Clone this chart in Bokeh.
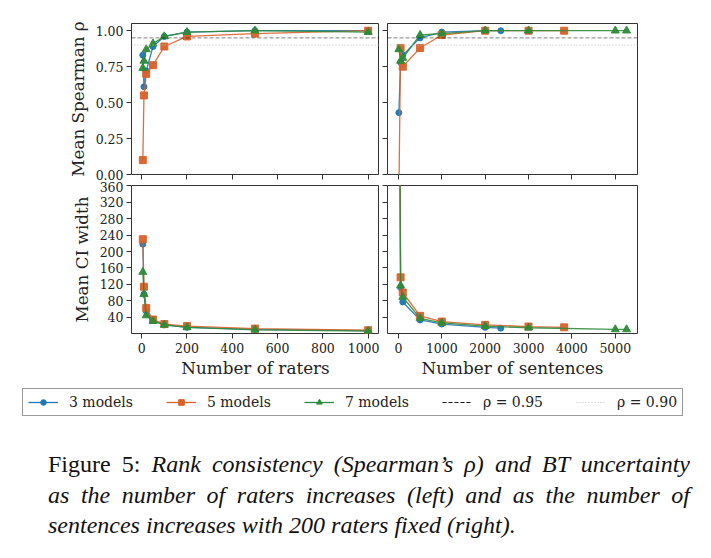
from bokeh.plotting import figure
from bokeh.layouts import column, row
from bokeh.models import Range1d, FixedTicker, Span, Legend, LegendItem, Div
from bokeh.embed import file_html
from bokeh.resources import INLINE

# ---- rater sweep (x = number of raters) ----
raters = [5, 10, 20, 50, 100, 200, 500, 1000]
rho_raters_3 = [0.83, 0.61, 0.72, 0.89, 0.96, 0.99, 1.00, 1.00]
rho_raters_5 = [0.10, 0.55, 0.70, 0.76, 0.89, 0.96, 0.98, 1.00]
rho_raters_7 = [0.74, 0.79, 0.87, 0.91, 0.96, 0.99, 1.00, 0.99]
ci_raters_3 = [218, 96, 54, 32, 21, 15, 10, 7]
ci_raters_5 = [230, 114, 62, 34, 23, 18, 12, 8]
ci_raters_7 = [150, 96, 44, 30, 21, 15, 9, 6]

# ---- sentence sweep (x = number of sentences, 200 raters) ----
sent_3 = [10, 50, 100, 500, 1000, 2000, 2360]
sent_5 = [10, 50, 100, 500, 1000, 2000, 3000, 3820]
sent_7 = [10, 50, 100, 500, 1000, 2000, 3000, 5000, 5260]
rho_sent_3 = [0.43, 0.78, 0.83, 0.95, 0.99, 1.00, 1.00]
rho_sent_5 = [-0.15, 0.88, 0.75, 0.88, 0.97, 1.00, 1.00, 1.00]
rho_sent_7 = [0.87, 0.79, 0.81, 0.97, 0.98, 1.00, 1.00, 1.00, 1.00]
ci_sent_3 = [900, 112, 77, 33, 23, 15, 13]
ci_sent_5 = [1000, 137, 100, 43, 29, 21, 17, 15]
ci_sent_7 = [950, 117, 89, 37, 26, 18, 14, 10, 10]

# reference thresholds for rho
rho_refs = [0.95, 0.90]
rho_ref_labels = ["ρ = 0.95", "ρ = 0.90"]

# ---- ticks ----
rater_ticks = [0, 200, 400, 600, 800, 1000]
rater_tick_labels = ["0", "200", "400", "600", "800", "1000"]
sent_ticks = [0, 1000, 2000, 3000, 4000, 5000]
sent_tick_labels = ["0", "1000", "2000", "3000", "4000", "5000"]
rho_ticks = [0.0, 0.25, 0.5, 0.75, 1.0]
rho_tick_labels = ["0.00", "0.25", "0.50", "0.75", "1.00"]
ci_ticks = [40, 80, 120, 160, 200, 240, 280, 320, 360]
ci_tick_labels = ["40", "80", "120", "160", "200", "240", "280", "320", "360"]

series_names = ["3 models", "5 models", "7 models"]
colors = ["#1f77b4", "#d9612a", "#2e8b3a"]
markers = ["circle", "square", "triangle"]
msizes = [6, 7, 8]
ref_styles = [dict(line_color="black", line_alpha=0.5, line_dash="4 2"),
              dict(line_color="#bdbdbd", line_alpha=1.0, line_dash="1 2")]

SERIF = "DejaVu Serif"
INK = "#222222"
FRAME = "#333333"

rho_range = Range1d(0, 1.05)
ci_range = Range1d(0, 361)
rater_range = Range1d(-45, 1050)
sent_range = Range1d(-252, 5512)


def style_axis(ax, ticks, labels, show, is_x):
    ax.axis_line_color = None
    ax.major_label_text_font = SERIF
    ax.major_label_text_color = INK
    ax.axis_label_text_font = SERIF
    ax.axis_label_text_font_style = "normal"
    ax.axis_label_text_color = INK
    ax.axis_label_text_font_size = "16.8px"
    if show:
        ax.ticker = FixedTicker(ticks=ticks)
        ax.major_label_overrides = {t: l for t, l in zip(ticks, labels)}
        ax.major_tick_line_color = FRAME
        ax.major_tick_out = 5
        ax.major_tick_in = 0
        ax.minor_tick_line_color = None
        ax.major_label_text_font_size = "12.5px"
        ax.major_label_standoff = 4 if is_x else 3
        ax.axis_label_standoff = 2 if is_x else 5
    else:
        # tick marks only (shared axis): use minor ticks, which carry no labels
        ax.ticker = FixedTicker(ticks=[], minor_ticks=ticks)
        ax.minor_tick_line_color = FRAME
        ax.minor_tick_out = 5
        ax.minor_tick_in = 0
        ax.major_tick_line_color = None
        ax.major_label_standoff = 0


def make_panel(width, height, xr, yr, borders, xticks, xlabels, yticks, ylabels,
               show_xlabels, show_ylabels, xtitle=None, ytitle=None):
    left, right, top, bottom = borders
    p = figure(width=width, height=height, x_range=xr, y_range=yr,
               toolbar_location=None, output_backend="svg",
               min_border_left=left, min_border_right=right,
               min_border_top=top, min_border_bottom=bottom)
    p.grid.visible = False
    p.outline_line_color = FRAME
    p.outline_line_width = 1
    p.background_fill_color = "white"
    p.border_fill_color = "white"
    style_axis(p.xaxis[0], xticks, xlabels, show_xlabels, True)
    style_axis(p.yaxis[0], yticks, ylabels, show_ylabels, False)
    if xtitle:
        p.xaxis.axis_label = xtitle
    if ytitle:
        p.yaxis.axis_label = ytitle
    return p


def draw_series(p, xs_list, ys_list, lw=1.3):
    for xs, ys, c, m, s in zip(xs_list, ys_list, colors, markers, msizes):
        p.line(xs, ys, line_color=c, line_width=lw, line_alpha=0.9)
        p.scatter(xs, ys, marker=m, size=s, fill_color=c, line_color=c, alpha=0.95)


def add_reference_lines(p):
    for loc, st in zip(rho_refs, ref_styles):
        p.add_layout(Span(location=loc, dimension="width", line_width=1, **st))


# top row: Spearman rho
tl = make_panel(379, 181, rater_range, rho_range, (131, 0, 23, 7),
                rater_ticks, rater_tick_labels, rho_ticks, rho_tick_labels,
                False, True, ytitle="Mean Spearman ρ")
add_reference_lines(tl)
draw_series(tl, [raters, raters, raters], [rho_raters_3, rho_raters_5, rho_raters_7])

tr = make_panel(332, 181, sent_range, rho_range, (8, 74, 23, 7),
                sent_ticks, sent_tick_labels, rho_ticks, rho_tick_labels,
                False, False)
add_reference_lines(tr)
draw_series(tr, [sent_3, sent_5, sent_7], [rho_sent_3, rho_sent_5, rho_sent_7])

# bottom row: CI width
bl = make_panel(379, 199, rater_range, ci_range, (131, 0, 4, 44),
                rater_ticks, rater_tick_labels, ci_ticks, ci_tick_labels,
                True, True, xtitle="Number of raters", ytitle="Mean CI width")
draw_series(bl, [raters, raters, raters], [ci_raters_3, ci_raters_5, ci_raters_7])

br = make_panel(332, 199, sent_range, ci_range, (8, 74, 4, 44),
                sent_ticks, sent_tick_labels, ci_ticks, ci_tick_labels,
                True, False, xtitle="Number of sentences")
draw_series(br, [sent_3, sent_5, sent_7], [ci_sent_3, ci_sent_5, ci_sent_7])

# shared legend strip: series drawn outside its visible window, only the
# legend swatches show
lg = figure(width=711, height=50, x_range=Range1d(-3, -2), y_range=Range1d(-3, -2),
            toolbar_location=None, output_backend="svg", min_border=0,
            x_axis_location=None, y_axis_location=None)
lg.grid.visible = False
lg.outline_line_color = None
items = []
for name, c, m, s in zip(series_names, colors, markers, msizes):
    r1 = lg.line(raters, rho_raters_3, line_color=c, line_width=1.3)
    r2 = lg.scatter(raters, rho_raters_3, marker=m, size=s - 2, fill_color=c, line_color=c)
    items.append(LegendItem(label=name, renderers=[r1, r2]))
for loc, lab, st in zip(rho_refs, rho_ref_labels, ref_styles):
    st = dict(st)
    if st["line_color"] == "black":
        st["line_alpha"] = 0.9
    rr = lg.line(raters, [loc] * len(raters), line_width=1, **st)
    items.append(LegendItem(label=lab, renderers=[rr]))
legend = Legend(items=items, orientation="horizontal", location=(22, 14),
                label_text_font=SERIF, label_text_font_size="14px",
                label_text_color=INK, glyph_width=30, glyph_height=14,
                label_standoff=11, spacing=33, padding=5, margin=0,
                border_line_color=FRAME, border_line_width=1,
                background_fill_alpha=1.0)
lg.add_layout(legend, "center")

caption_html = (
    '<div style="width:642px;font-family:\'Liberation Serif\',serif;font-size:24px;'
    'line-height:30.5px;color:#111;">'
    '<div style="width:642px;text-align:justify;text-align-last:justify;">Figure 5: '
    '<i>Rank consistency (Spearman’s ρ) and BT uncertainty</i></div>'
    '<div style="width:642px;text-align:justify;text-align-last:justify;">'
    '<i>as the number of raters increases (left) and as the number of</i></div>'
    '<div style="width:642px;text-align:left;">'
    '<i>sentences increases with 200 raters fixed (right).</i></div>'
    '</div>'
)
caption = Div(text=caption_html, width=642, height=100, margin=(19, 0, 0, 48))

page = column(row(tl, tr), row(bl, br), lg, caption)

open("out.html", "w").write(file_html(page, INLINE))
